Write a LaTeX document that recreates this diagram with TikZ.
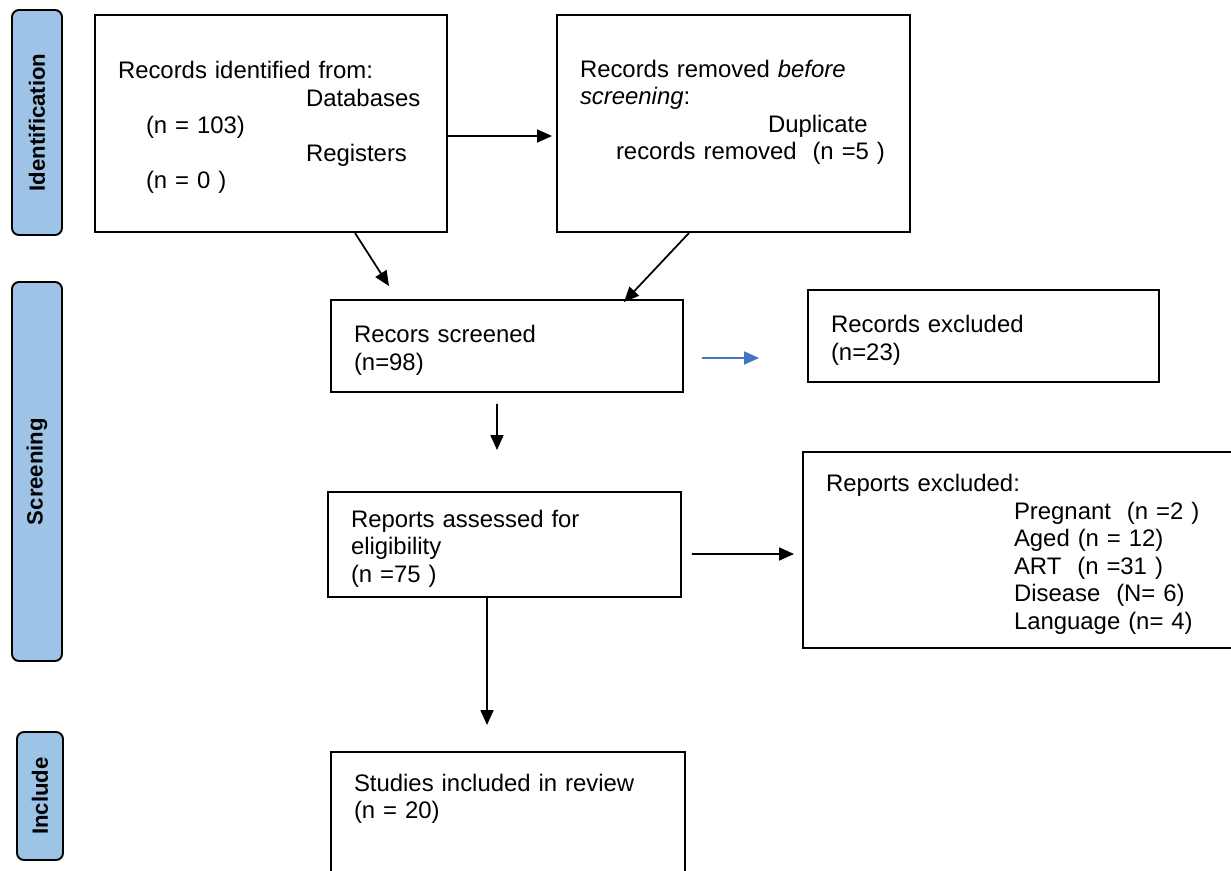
\documentclass[tikz,border=0pt]{standalone}
\usepackage{fontspec}
\setmainfont{Liberation Sans}
\usetikzlibrary{arrows.meta}
\usetikzlibrary{positioning}
\definecolor{phaseblue}{HTML}{9DC3E6}
\definecolor{mblue}{HTML}{4472C4}
\tikzset{stagebox/.style = {draw, line width=1.1pt, inner xsep=0.46cm, inner ysep=0pt,
                            align=left, font=\fontsize{13.6}{15.65}\selectfont}}
\tikzset{lowtext/.style = {execute at begin node={\rule{0pt}{14.5pt}}}}
\tikzset{phase/.style = {draw, line width=1.1pt, fill=phaseblue, rounded corners=4pt,
                         rotate=90, inner sep=0pt, font=\fontsize{12.6}{14}\selectfont\bfseries}}
\tikzset{flow/.style = {line width=1pt, -{Triangle[length=0.3cm, width=0.26cm]}}}

\begin{document}
\begin{tikzpicture}[x=2cm, y=-2cm]
    \useasboundingbox (0, 0) rectangle (12.31, 8.70);

    \node [phase, minimum width=4.5cm, minimum height=1cm] (idlab) at (0.37, 1.225) {Identification};
    \node [phase, minimum width=7.58cm, minimum height=1cm] (scrlab) at (0.37, 4.715) {Screening};
    \node [phase, minimum width=2.56cm, minimum height=0.92cm] (inclab) at (0.40, 7.96) {Include};

    \node [stagebox, lowtext, text width=6.12cm, minimum height=4.34cm] (idbox) at (2.71, 1.235)
      {Records identified from:\\
       \hspace*{3.76cm}Databases\\
       \hspace*{0.56cm}(n = 103)\\
       \hspace*{3.76cm}Registers\\
       \hspace*{0.56cm}(n = 0 )};
    \node [stagebox, text width=6.14cm, minimum height=4.34cm] (dupbox) at (7.335, 1.235)
      {Records removed \textit{before}\\
       \textit{screening}:\\
       \hspace*{3.76cm}Duplicate\\
       \hspace*{0.72cm}records removed~~(n =5 )\\
       ~};
    \node [stagebox, lowtext, text width=6.12cm, minimum height=1.84cm] (scrbox) at (5.07, 3.46)
      {Recors screened\\(n=98)};
    \node [stagebox, lowtext, text width=6.10cm, minimum height=1.84cm] (recbox) at (9.835, 3.36)
      {Records excluded\\(n=23)};
    \node [stagebox, lowtext, text width=6.14cm, minimum height=2.1cm] (elgbox) at (5.045, 5.445)
      {Reports assessed for\\eligibility\\(n =75 )};
    \node [stagebox, lowtext, text width=7.92cm, minimum height=3.92cm] (repbox) at (10.24, 5.50)
      {Reports excluded:\\
       \hspace*{3.76cm}Pregnant~~(n =2 )\\
       \hspace*{3.76cm}Aged (n = 12)\\
       \hspace*{3.76cm}ART~~(n =31 )\\
       \hspace*{3.76cm}Disease~~(N= 6)\\
       \hspace*{3.76cm}Language (n= 4)};
    \node [stagebox, text width=6.16cm, minimum height=2.88cm] (incbox) at (5.08, 8.24)
      {Studies included in review\\(n = 20)\\~\\~};

    \draw [flow] ([yshift=-0.25cm]idbox.east) -- ([yshift=-0.25cm, xshift=-0.08cm]dupbox.west);
    \draw [flow] ([xshift=1.68cm]idbox.south) -- ([xshift=-2.36cm, yshift=0.26cm]scrbox.north);
    \draw [flow] ([xshift=-0.89cm]dupbox.south) -- ([xshift=2.34cm, yshift=-0.06cm]scrbox.north);
    \draw [flow, mblue] ([xshift=0.36cm, yshift=-0.24cm]scrbox.east) -- ([xshift=-0.96cm, yshift=-0.44cm]recbox.west);
    \draw [flow] ([xshift=-0.2cm, yshift=-0.22cm]scrbox.south) -- ([xshift=-0.15cm, yshift=0.82cm]elgbox.north);
    \draw [flow] ([xshift=0.2cm, yshift=-0.19cm]elgbox.east) -- ([xshift=-0.16cm, yshift=-0.08cm]repbox.west);
    \draw [flow] ([xshift=-0.35cm]elgbox.south) -- ([xshift=-0.42cm, yshift=0.52cm]incbox.north);
  \end{tikzpicture}
\end{document}
